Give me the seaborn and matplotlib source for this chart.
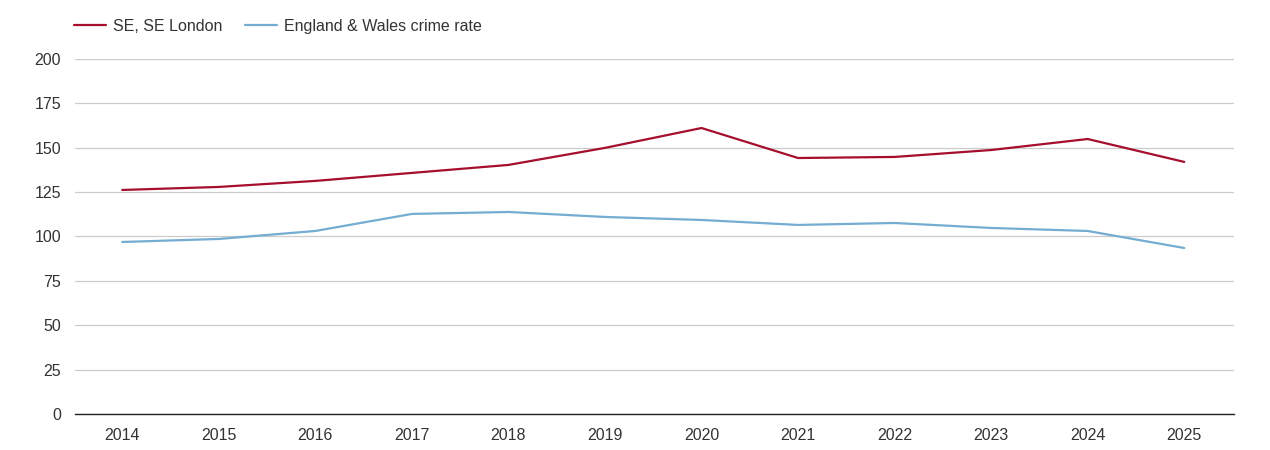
import numpy as np
import pandas as pd
import seaborn as sns
import matplotlib.pyplot as plt

years = list(range(2014, 2026))
se_london = [126.2, 127.9, 131.3, 135.8, 140.3, 149.9, 161.1, 144.2, 144.8, 148.7, 154.9, 142.0]
eng_wales = [96.9, 98.6, 103.1, 112.7, 113.8, 111.0, 109.3, 106.5, 107.6, 104.8, 103.1, 93.5]
series_names = ['SE, SE London', 'England & Wales crime rate']
colors = ['#a50f2d', '#74add1']

df = pd.DataFrame({'year': years * 2,
                   'rate': se_london + eng_wales,
                   'series': [series_names[0]] * len(years) + [series_names[1]] * len(years)})

sns.set_style('white')
plt.rcParams['font.family'] = ['Liberation Sans', 'DejaVu Sans']

fig = plt.figure(figsize=(12.7, 4.5), dpi=100)
ax = fig.add_axes([0.059, 0.08, 0.913, 0.789])
sns.lineplot(data=df, x='year', y='rate', hue='series', palette=colors, linewidth=1.6, ax=ax, legend=False)

ax.set_ylim(0, 200)
ax.set_xlim(2013.51, 2025.52)
ax.set_yticks(np.arange(0, 201, 25))
ax.set_xticks(years)
ax.grid(axis='y', color='#cccccc', linewidth=0.9)
ax.set_axisbelow(True)
for s in ['top', 'right', 'left']:
    ax.spines[s].set_visible(False)
ax.spines['bottom'].set_color('#222222')
ax.spines['bottom'].set_linewidth(1.0)
ax.tick_params(axis='both', length=0, labelsize=11.5, labelcolor='#333333')
ax.tick_params(axis='x', pad=10)
ax.tick_params(axis='y', pad=10)
ax.set_xlabel('')
ax.set_ylabel('')

handles = [plt.Line2D([], [], color=c, linewidth=1.6) for c in colors]
fig.legend(handles, series_names, loc='upper left', bbox_to_anchor=(0.047, 0.99), ncol=2,
           frameon=False, fontsize=11.5, handlelength=2.0, columnspacing=1.4, handletextpad=0.45,
           labelcolor='#333333')

plt.savefig('out.png', dpi=100)
